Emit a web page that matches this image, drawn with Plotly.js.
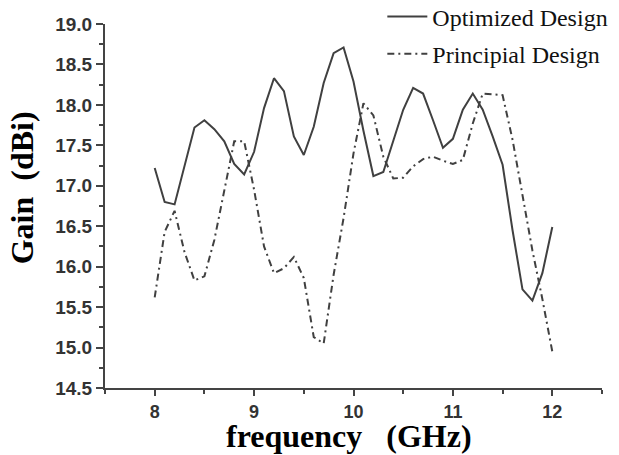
<!DOCTYPE html>
<html>
<head>
<meta charset="utf-8">
<script src="https://cdn.plot.ly/plotly-3.0.1.min.js"></script>
<style>html,body{margin:0;padding:0;background:#fff;}#chart{width:619px;height:455px;}</style>
</head>
<body>
<div id="chart"></div>
<script>
const frequency = [8.0,8.1,8.2,8.3,8.4,8.5,8.6,8.7,8.8,8.9,9.0,9.1,9.2,9.3,9.4,9.5,9.6,9.7,9.8,9.9,10.0,10.1,10.2,10.3,10.4,10.5,10.6,10.7,10.8,10.9,11.0,11.1,11.2,11.3,11.4,11.5,11.6,11.7,11.8,11.9,12.0];
const optimizedGain = [17.22,16.80,16.77,17.25,17.72,17.81,17.70,17.55,17.27,17.14,17.42,17.96,18.33,18.17,17.61,17.38,17.73,18.27,18.64,18.71,18.29,17.68,17.12,17.17,17.55,17.94,18.21,18.14,17.81,17.47,17.58,17.94,18.14,17.94,17.61,17.26,16.45,15.72,15.58,15.92,16.49];
const principalGain = [15.62,16.43,16.69,16.18,15.83,15.88,16.33,16.95,17.55,17.55,16.95,16.25,15.92,15.98,16.12,15.86,15.13,15.05,15.90,16.60,17.40,18.02,17.87,17.36,17.09,17.10,17.24,17.33,17.36,17.31,17.27,17.32,17.77,18.14,18.13,18.12,17.57,16.90,16.20,15.60,14.95];
const seriesNames = ["Optimized Design","Principial Design"];
const xTickVals = [8,9,10,11,12];
const yTickVals = [14.5,15.0,15.5,16.0,16.5,17.0,17.5,18.0,18.5,19.0];
const yTickText = ["14.5","15.0","15.5","16.0","16.5","17.0","17.5","18.0","18.5","19.0"];
const xTitle = "frequency&nbsp;&nbsp;&nbsp;(GHz)";
const yTitle = "Gain&nbsp;&nbsp;(dBi)";

const lineCol = "#404040";
const traces = [
  {x: frequency, y: optimizedGain, name: seriesNames[0], legendgroup: "a", type: "scatter", mode: "lines",
   line: {color: lineCol, width: 2}},
  {x: frequency, y: principalGain, name: seriesNames[1], legendgroup: "b", type: "scatter", mode: "lines",
   line: {color: lineCol, width: 2, dash: "7px,4px,2px,4px"}}
];
const yTickFont = {family: "Liberation Sans, Arial, sans-serif", size: 19, color: "#333", weight: 700};
const xTickFont = {family: "Liberation Sans, Arial, sans-serif", size: 18, color: "#333", weight: 700};
const layout = {
  width: 619, height: 455,
  margin: {l: 105, r: 17, t: 24, b: 67, autoexpand: false},
  paper_bgcolor: "#fff", plot_bgcolor: "#fff",
  showlegend: true,
  legend: {x: 0.558, xanchor: "left", y: 1.081, yanchor: "top", bgcolor: "rgba(0,0,0,0)",
    font: {family: "Liberation Serif, Times New Roman, serif", size: 24, color: "#111"},
    tracegroupgap: 3, itemwidth: 40},
  xaxis: {range: [7.5, 12.5], tickvals: xTickVals, ticks: "outside", ticklen: 6, tickwidth: 2,
    tickcolor: "#444", showline: true, linecolor: "#444", linewidth: 2, showgrid: false, zeroline: false,
    tickfont: xTickFont, automargin: false,
    minor: {dtick: 0.5, tick0: 7.5, ticks: "outside", ticklen: 4, tickwidth: 2, tickcolor: "#444", showgrid: false}},
  yaxis: {range: [14.5, 19.0], tickvals: yTickVals, ticktext: yTickText, ticks: "outside", ticklen: 7, tickwidth: 2,
    tickcolor: "#444", showline: true, linecolor: "#444", linewidth: 2, showgrid: false, zeroline: false,
    tickfont: yTickFont, automargin: false,
    minor: {dtick: 0.25, tick0: 14.5, ticks: "outside", ticklen: 4, tickwidth: 2, tickcolor: "#444", showgrid: false}},
  annotations: [
    {text: xTitle, xref: "paper", yref: "paper", x: 0.49, y: -0.133, xanchor: "center", yanchor: "middle",
     showarrow: false, font: {family: "Liberation Serif, Times New Roman, serif", size: 32, color: "#000", weight: 700}},
    {text: yTitle, xref: "paper", yref: "paper", x: -0.168, y: 0.55, xanchor: "center", yanchor: "middle",
     textangle: -90, showarrow: false, font: {family: "Liberation Serif, Times New Roman, serif", size: 32, color: "#000", weight: 700}}
  ]
};
Plotly.newPlot("chart", traces, layout, {displayModeBar: false, staticPlot: true});
</script>
</body>
</html>
